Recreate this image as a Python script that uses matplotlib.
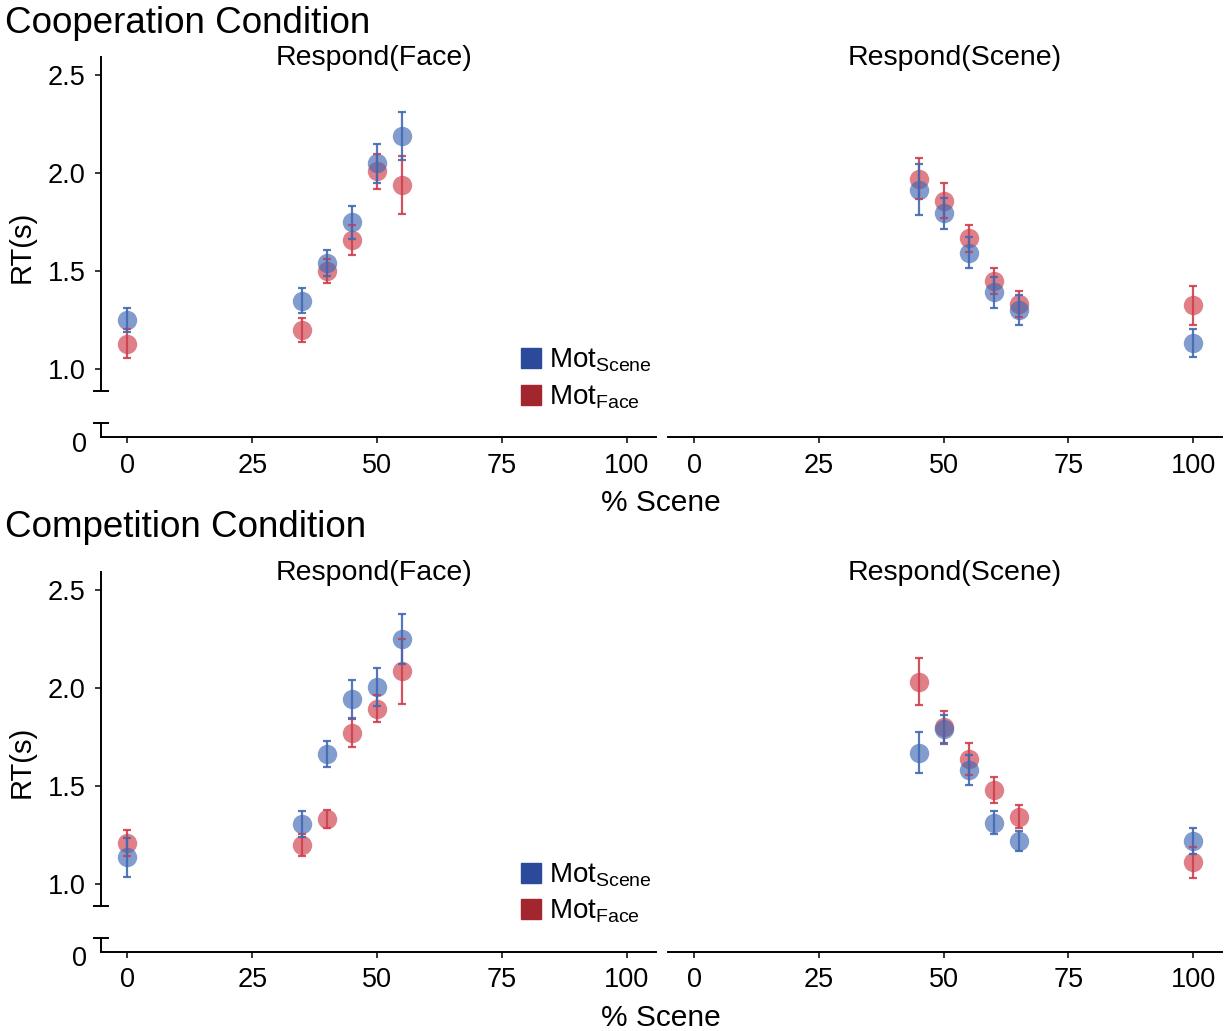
import matplotlib
matplotlib.use("Agg")
import matplotlib.pyplot as plt
from matplotlib.lines import Line2D
from matplotlib.transforms import ScaledTranslation

plt.rcParams["font.family"] = ["Liberation Sans", "DejaVu Sans"]
plt.rcParams["mathtext.default"] = "regular"

W, H = 1229, 1031

# % Scene levels per panel
x_face = [0, 35, 40, 45, 50, 55]
x_scene = [45, 50, 55, 60, 65, 100]

# Cooperation condition
coop_face_mscene = [1.25, 1.35, 1.54, 1.75, 2.05, 2.19]
coop_face_mscene_err = [0.06, 0.064, 0.066, 0.085, 0.10, 0.124]
coop_face_mface = [1.13, 1.20, 1.50, 1.66, 2.01, 1.94]
coop_face_mface_err = [0.073, 0.06, 0.06, 0.075, 0.09, 0.15]
coop_scene_mscene = [1.915, 1.796, 1.595, 1.393, 1.302, 1.136]
coop_scene_mscene_err = [0.13, 0.078, 0.079, 0.078, 0.076, 0.071]
coop_scene_mface = [1.971, 1.860, 1.668, 1.452, 1.333, 1.326]
coop_scene_mface_err = [0.105, 0.09, 0.07, 0.067, 0.065, 0.10]

# Competition condition
comp_face_mscene = [1.134, 1.304, 1.661, 1.941, 2.005, 2.248]
comp_face_mscene_err = [0.10, 0.068, 0.066, 0.098, 0.096, 0.127]
comp_face_mface = [1.207, 1.197, 1.330, 1.771, 1.893, 2.083]
comp_face_mface_err = [0.065, 0.055, 0.048, 0.074, 0.068, 0.165]
comp_scene_mscene = [1.669, 1.788, 1.581, 1.312, 1.219, 1.219]
comp_scene_mscene_err = [0.105, 0.075, 0.077, 0.058, 0.05, 0.065]
comp_scene_mface = [2.031, 1.798, 1.637, 1.479, 1.343, 1.110]
comp_scene_mface_err = [0.12, 0.082, 0.08, 0.065, 0.059, 0.08]

BLUE = "#4169b4"
RED = "#cf3f4b"
LEG_BLUE = "#2c4a9a"
LEG_RED = "#a3262f"

YLIM = (0.889, 2.593)
XLIM = (-5.3, 105.8)

fig = plt.figure(figsize=(W / 100, H / 100), dpi=100)


def fx(px):
    return px / W


def fy(py):
    return 1 - py / H


def axes_px(x0, x1, y0, y1):
    return fig.add_axes([fx(x0), fy(y1), fx(x1) - fx(x0), (y1 - y0) / H])


def cap(xpx, ypx):
    fig.add_artist(Line2D([fx(xpx - 7), fx(xpx + 7)], [fy(ypx), fy(ypx)],
                          transform=fig.transFigure, color="black", lw=1.4))


def draw_series(ax, x, y, e, col):
    ax.plot(x, y, "o", ms=14, color=col, alpha=0.66, mec="none", zorder=2)
    ax.errorbar(x, y, yerr=e, fmt="none", ecolor=col, elinewidth=1.6,
                capsize=3, capthick=1.6, alpha=0.9, zorder=3)


def panel(x0, x1, dy, left, series):
    top = 57 + dy
    brk = 391 + dy
    low = 423 + dy
    base = 437 + dy
    ax = axes_px(x0, x1, top, brk)
    ax.set_xlim(*XLIM)
    ax.set_ylim(*YLIM)
    ax.set_xticks([])
    for s in ["top", "right", "bottom"]:
        ax.spines[s].set_visible(False)
    ax.patch.set_alpha(0)
    if left:
        ax.spines["left"].set_linewidth(1.4)
        ax.set_yticks([1.0, 1.5, 2.0, 2.5])
        ax.set_yticklabels(["1.0", "1.5", "2.0", "2.5"])
        ax.tick_params(axis="y", length=4.5, width=1.1, pad=6.5, labelsize=19.5)
    else:
        ax.spines["left"].set_visible(False)
        ax.set_yticks([])
    for x, y, e, c in series:
        draw_series(ax, x, y, e, c)

    axl = axes_px(x0, x1, low, base)
    axl.set_xlim(*XLIM)
    axl.set_ylim(0, 1)
    axl.patch.set_alpha(0)
    for s in ["top", "right"]:
        axl.spines[s].set_visible(False)
    axl.spines["bottom"].set_linewidth(1.4)
    axl.set_xticks([0, 25, 50, 75, 100])
    axl.tick_params(axis="x", length=4.5, width=1.1, pad=7, labelsize=19.5)
    if left:
        axl.spines["left"].set_linewidth(1.4)
        axl.set_yticks([0])
        axl.set_yticklabels(["0"])
        axl.tick_params(axis="y", length=0, pad=10, labelsize=19.5)
        for lab in axl.get_yticklabels():
            lab.set_transform(lab.get_transform() +
                              ScaledTranslation(0, -5 / 100, fig.dpi_scale_trans))
        cap(x0, brk)
        cap(x0, low)
    else:
        axl.spines["left"].set_visible(False)
        axl.set_yticks([])
    return ax


rows = [
    ("Cooperation Condition", 0,
     [(x_face, coop_face_mface, coop_face_mface_err, RED),
      (x_face, coop_face_mscene, coop_face_mscene_err, BLUE)],
     [(x_scene, coop_scene_mface, coop_scene_mface_err, RED),
      (x_scene, coop_scene_mscene, coop_scene_mscene_err, BLUE)], 33),
    ("Competition Condition", 514.5,
     [(x_face, comp_face_mface, comp_face_mface_err, RED),
      (x_face, comp_face_mscene, comp_face_mscene_err, BLUE)],
     [(x_scene, comp_scene_mface, comp_scene_mface_err, RED),
      (x_scene, comp_scene_mscene, comp_scene_mscene_err, BLUE)], 537),
]

for title, dy, face_series, scene_series, title_base in rows:
    axf = panel(101, 655.6, dy, True, face_series)
    panel(668, 1222, dy, False, scene_series)

    fig.text(fx(5), fy(title_base), title, fontsize=26.5, va="baseline", ha="left")
    fig.text(fx(373.5), fy(65 + dy), "Respond(Face)", fontsize=20.5,
             va="baseline", ha="center")
    fig.text(fx(955), fy(65 + dy), "Respond(Scene)", fontsize=20.5,
             va="baseline", ha="center")
    fig.text(fx(661), fy(511 + dy), "% Scene", fontsize=21.5,
             va="baseline", ha="center")
    fig.text(fx(22), fy(247 + dy), "RT(s)", fontsize=21, rotation=90,
             va="center", ha="center")

    handles = [Line2D([], [], ls="none", marker="s", ms=14.5, color=LEG_BLUE),
               Line2D([], [], ls="none", marker="s", ms=14.5, color=LEG_RED)]
    leg = axf.legend(handles, [r"Mot$_{Scene}$", r"Mot$_{Face}$"],
                     loc="upper left",
                     bbox_to_anchor=(fx(518), fy(347 + dy)),
                     bbox_transform=fig.transFigure,
                     frameon=False, fontsize=20, handlelength=0.9,
                     handletextpad=0.2, labelspacing=0.32,
                     borderpad=0, borderaxespad=0)

fig.savefig("out.png", dpi=100)
